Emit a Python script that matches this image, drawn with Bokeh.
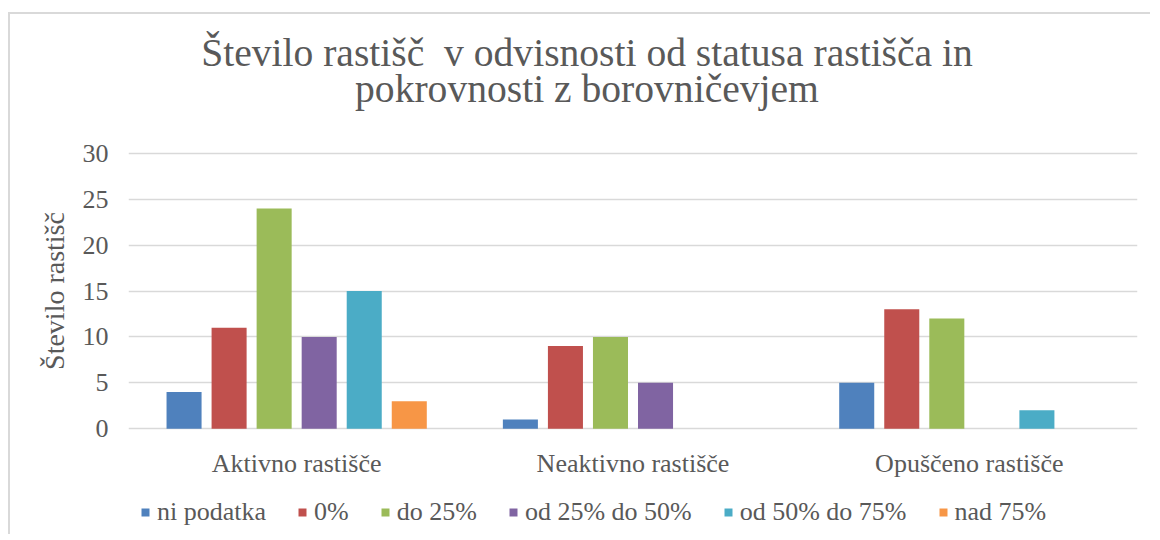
from bokeh.plotting import figure
from bokeh.layouts import column
from bokeh.models import (Range1d, FactorRange, Legend, LegendItem,
                          ColumnDataSource, FixedTicker, Div)
from bokeh.transform import dodge
from bokeh.embed import file_html
from bokeh.resources import INLINE

categories = ["Aktivno rastišče", "Neaktivno rastišče", "Opuščeno rastišče"]
series_names = ["ni podatka", "0%", "do 25%", "od 25% do 50%", "od 50% do 75%", "nad 75%"]
ni_podatka = [4, 1, 5]
p0 = [11, 9, 13]
do25 = [24, 10, 12]
od25_50 = [10, 5, 0]
od50_75 = [15, 0, 2]
nad75 = [3, 0, 0]
y_ticks = [0, 5, 10, 15, 20, 25, 30]
title_lines = ["Število rastišč&nbsp; v odvisnosti od statusa rastišča in",
               "pokrovnosti z borovničevjem"]
y_label = "Število rastišč"

colors = ["#4F81BD", "#C0504D", "#9BBB59", "#8064A2", "#4BACC6", "#F79646"]

FONT = "Liberation Serif"
GRAY = "#595959"

src = ColumnDataSource(dict(cat=categories, s0=ni_podatka, s1=p0, s2=do25,
                            s3=od25_50, s4=od50_75, s5=nad75))

step = 45 / 336
bw = 35 / 336

# ---- main chart ----
p = figure(width=1140, height=364, x_range=FactorRange(*categories),
           y_range=Range1d(-0.2, 30.2), output_backend="svg", toolbar_location=None,
           min_border_left=118, min_border_right=13, min_border_top=27,
           min_border_bottom=58)
p.outline_line_color = None
p.background_fill_color = "white"
p.border_fill_color = "white"

for i, col in enumerate(colors):
    p.vbar(x=dodge("cat", (i - 2.5) * step, range=p.x_range), top="s%d" % i,
           width=bw, source=src, fill_color=col, line_color=None)

p.xgrid.grid_line_color = None
p.ygrid.grid_line_color = "#d9d9d9"
p.ygrid.grid_line_width = 1.5
p.yaxis.ticker = FixedTicker(ticks=y_ticks)

for ax in (p.xaxis[0], p.yaxis[0]):
    ax.axis_line_color = None
    ax.major_tick_line_color = None
    ax.minor_tick_line_color = None
    ax.major_tick_out = 0
    ax.major_tick_in = 0
    ax.major_label_text_font = FONT
    ax.major_label_text_font_size = "26px"
    ax.major_label_text_color = GRAY

p.yaxis.major_label_standoff = 20
p.xaxis.major_label_standoff = 18
p.yaxis.axis_label = y_label
p.yaxis.axis_label_text_font = FONT
p.yaxis.axis_label_text_font_size = "28px"
p.yaxis.axis_label_text_font_style = "normal"
p.yaxis.axis_label_text_color = GRAY
p.yaxis.axis_label_standoff = 10

# ---- legend strip (series drawn out of view; only the legend shows) ----
pl = figure(width=1140, height=46, x_range=FactorRange(*categories),
            y_range=Range1d(100, 101), output_backend="svg",
            toolbar_location=None, x_axis_type=None, y_axis_type=None,
            min_border=0)
pl.outline_line_color = None
pl.grid.grid_line_color = None
pl.background_fill_alpha = 0
pl.border_fill_alpha = 0
items = []
for i, (name, col) in enumerate(zip(series_names, colors)):
    r = pl.vbar(x=dodge("cat", (i - 2.5) * step, range=pl.x_range), top="s%d" % i,
                width=bw, source=src, fill_color=col, line_color=None)
    items.append(LegendItem(label=name, renderers=[r]))
legend = Legend(items=items, location=(12, 7), orientation="horizontal",
                padding=0, margin=0, border_line_color=None,
                background_fill_alpha=0, glyph_width=10, glyph_height=10,
                label_standoff=7, spacing=31,
                label_text_font=FONT, label_text_font_size="26px",
                label_text_color=GRAY)
pl.add_layout(legend, "center")

title_html = (
    '<div style="margin:0;padding:20.6px 0 0 0;position:relative;left:7px;'
    'width:1140px;text-align:center;'
    'font-family:\'Liberation Serif\';font-size:39.6px;line-height:36px;color:%s;">'
    '%s<br>%s</div>' % (GRAY, title_lines[0], title_lines[1])
)
title_div = Div(text=title_html, width=1140, height=110,
                styles={"margin": "0", "padding": "0"})

layout = column(title_div, p, pl, spacing=0, margin=(12, 0, 0, 8),
                styles={"border-top": "2px solid #d9d9d9",
                        "border-left": "2px solid #d9d9d9"})

open("out.html", "w").write(file_html(layout, INLINE))
